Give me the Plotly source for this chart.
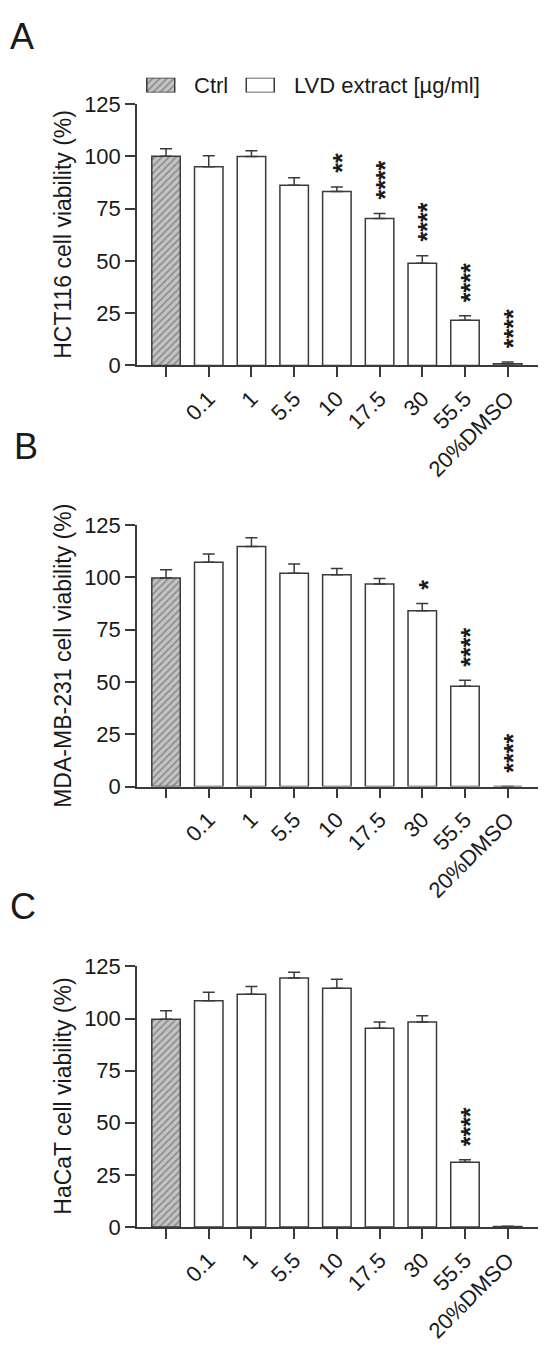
import plotly.graph_objects as go

# ---------------- data ----------------
categories = ["Ctrl", "0.1", "1", "5.5", "10", "17.5", "30", "55.5", "20%DMSO"]
tick_labels = ["", "0.1", "1", "5.5", "10", "17.5", "30", "55.5", "20%DMSO"]

hct_mean = [100.1, 95.1, 100.0, 86.2, 83.2, 70.3, 48.9, 21.6, 0.8]
hct_err = [3.6, 5.2, 2.8, 3.6, 2.2, 2.4, 3.6, 2.2, 0.8]
hct_sig = ["", "", "", "", "**", "****", "****", "****", "****"]

mda_mean = [99.7, 107.2, 114.8, 102.0, 101.2, 96.8, 84.0, 48.0, 0.0]
mda_err = [4.0, 4.0, 4.1, 4.4, 3.1, 2.7, 3.5, 2.8, 0.0]
mda_sig = ["", "", "", "", "", "", "*", "****", "****"]

hacat_mean = [99.7, 108.5, 111.7, 119.5, 114.5, 95.3, 98.3, 31.1, 0.2]
hacat_err = [4.1, 4.1, 3.7, 2.7, 4.4, 3.0, 3.1, 1.1, 0.2]
hacat_sig = ["", "", "", "", "", "", "", "****", ""]

panel_letters = ["A", "B", "C"]
y_titles = ["HCT116 cell viability (%)", "MDA-MB-231 cell viability (%)", "HaCaT cell viability (%)"]
legend_names = ["Ctrl", "LVD extract [µg/ml]"]
y_ticks = [0, 25, 50, 75, 100, 125]

# ---------------- style ----------------
FONT = "Liberation Sans, Arial, Helvetica, sans-serif"
TXT = "#1a1a1a"
LINE = "#3a3a3a"
W, H = 550, 1361
BAR_W = 0.667
hatch = dict(shape="/", fgcolor="#5a5a5a", bgcolor="#c4c4c4", size=5, solidity=0.35)

# panel vertical extents in pixels (top=125, bottom=0)
panel_px = [(94, 360), (522.7, 789), (972.3, 1237.7)]
letter_px = [(8, 25), (12, 443), (8, 911)]
x_dom = [137 / W, 538 / W]
x_rng = [-0.68, 8.71]

panels = [
    (hct_mean, hct_err, hct_sig),
    (mda_mean, mda_err, mda_sig),
    (hacat_mean, hacat_err, hacat_sig),
]

fig = go.Figure()
annotations = []
xpos = list(range(len(categories)))

for k, (mean, err, sig) in enumerate(panels):
    n = k + 1
    xa = "x" if n == 1 else f"x{n}"
    ya = "y" if n == 1 else f"y{n}"
    # control bar (hatched)
    fig.add_trace(go.Bar(
        x=xpos[:1], y=mean[:1], width=BAR_W, xaxis=xa, yaxis=ya,
        marker=dict(color="#c4c4c4", pattern=hatch, line=dict(color=LINE, width=1.5)),
        error_y=dict(type="data", symmetric=False, array=err[:1], arrayminus=[0],
                     color=LINE, thickness=1.5, width=6),
        showlegend=False, hoverinfo="skip",
    ))
    # extract bars (white)
    fig.add_trace(go.Bar(
        x=xpos[1:], y=mean[1:], width=BAR_W, xaxis=xa, yaxis=ya,
        marker=dict(color="white", line=dict(color=LINE, width=1.5)),
        error_y=dict(type="data", symmetric=False, array=err[1:], arrayminus=[0] * (len(err) - 1),
                     color=LINE, thickness=1.5, width=6),
        showlegend=False, hoverinfo="skip",
    ))
    top, bot = panel_px[k]
    ydom = [1 - bot / H, 1 - top / H]
    fig.update_layout(**{
        ("xaxis" if n == 1 else f"xaxis{n}"): dict(
            domain=x_dom, range=x_rng, anchor=ya, tickmode="array",
            tickvals=xpos, ticktext=tick_labels, tickangle=-45,
            ticks="outside", ticklen=10, tickwidth=1.5, tickcolor=LINE,
            showline=True, linecolor=LINE, linewidth=1.5, showgrid=False, zeroline=False,
            tickfont=dict(family=FONT, size=22, color=TXT),
        ),
        ("yaxis" if n == 1 else f"yaxis{n}"): dict(
            domain=ydom, range=[0, 125], anchor=xa, tickmode="array", tickvals=y_ticks,
            ticks="outside", ticklen=10, tickwidth=1.5, tickcolor=LINE,
            showline=True, linecolor=LINE, linewidth=1.5, showgrid=False, zeroline=False,
            tickfont=dict(family=FONT, size=22, color=TXT),
        ),
    })
    # y title
    annotations.append(dict(
        text=y_titles[k], xref="paper", yref="paper", x=63 / W, y=(ydom[0] + ydom[1]) / 2,
        textangle=-90, showarrow=False, xanchor="center", yanchor="middle",
        font=dict(family=FONT, size=23, color=TXT),
    ))
    # panel letter
    lx, ly = letter_px[k]
    annotations.append(dict(
        text=panel_letters[k], xref="paper", yref="paper", x=lx / W, y=1 - ly / H,
        showarrow=False, xanchor="left", yanchor="middle",
        font=dict(family=FONT, size=36, color=TXT),
    ))
    # significance stars
    for i, s in enumerate(sig):
        if s:
            annotations.append(dict(
                text="<b>" + s + "</b>", xref=xa, yref=ya, x=xpos[i], y=mean[i] + err[i],
                textangle=-90, showarrow=False, xanchor="center", yanchor="bottom",
                yshift=12, xshift=5, font=dict(family=FONT, size=25, color=TXT),
            ))

# ---------------- legend (custom swatches) ----------------
leg_x = [0, 1]
fig.add_trace(go.Bar(
    x=leg_x[:1], y=[1], width=0.281, xaxis="x4", yaxis="y4",
    marker=dict(color="#c4c4c4", pattern=hatch, line=dict(color=LINE, width=1.5)),
    showlegend=False, hoverinfo="skip",
))
fig.add_trace(go.Bar(
    x=leg_x[1:], y=[1], width=0.281, xaxis="x4", yaxis="y4",
    marker=dict(color="white", line=dict(color=LINE, width=1.5)),
    showlegend=False, hoverinfo="skip",
))
fig.update_layout(
    xaxis4=dict(domain=[111 / W, 310 / W], range=[-0.5, 1.5], visible=False, anchor="y4"),
    yaxis4=dict(domain=[1 - 82 / H, 1 - 67 / H], range=[0, 1], visible=False, anchor="x4"),
)
legend_text_x = [192, 292]
for name, tx in zip(legend_names, legend_text_x):
    annotations.append(dict(
        text=name, xref="paper", yref="paper", x=tx / W, y=1 - 75 / H,
        showarrow=False, xanchor="left", yanchor="middle",
        font=dict(family=FONT, size=22, color=TXT),
    ))

fig.update_layout(
    width=W, height=H, margin=dict(l=0, r=0, t=0, b=0),
    paper_bgcolor="white", plot_bgcolor="white",
    barmode="overlay", showlegend=False, annotations=annotations,
    font=dict(family=FONT, color=TXT),
)

fig.write_html("out.html", config={"displayModeBar": False},
               post_script="document.body.style.margin='0';")
